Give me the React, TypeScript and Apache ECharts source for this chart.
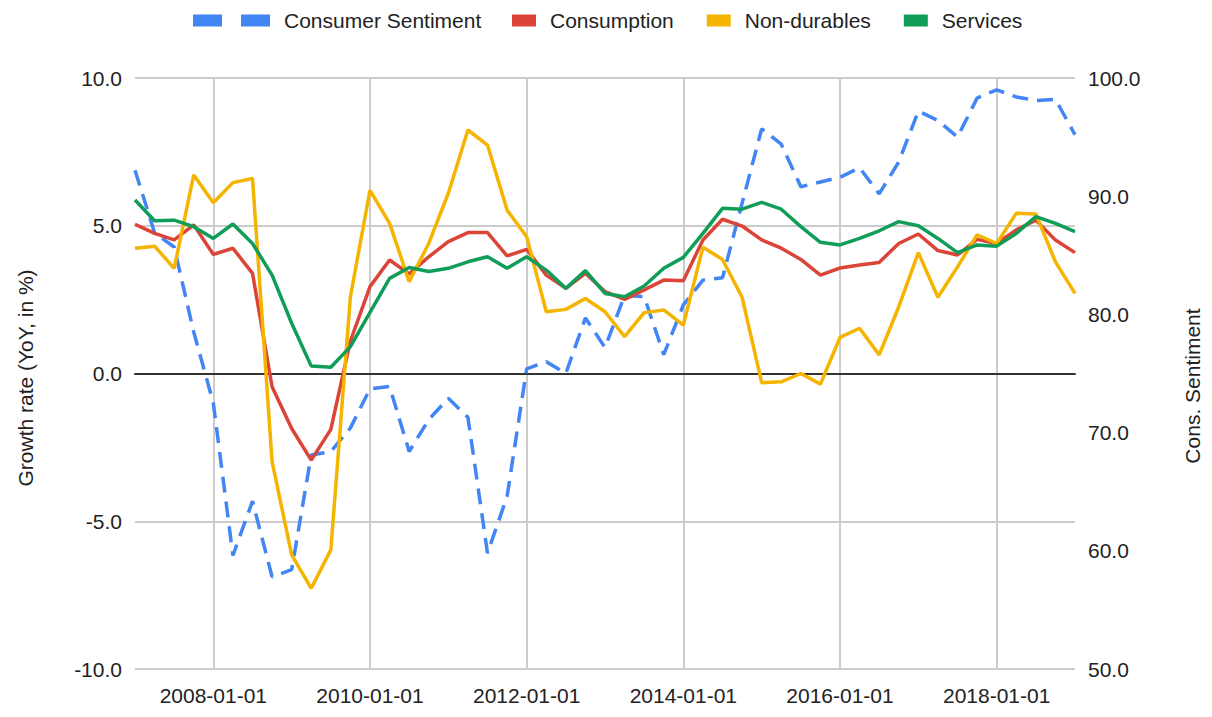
import React, { useEffect, useRef } from "react";
import * as echarts from "echarts";

const categories = [
  "2007-01-01", "2007-04-01", "2007-07-01", "2007-10-01",
  "2008-01-01", "2008-04-01", "2008-07-01", "2008-10-01",
  "2009-01-01", "2009-04-01", "2009-07-01", "2009-10-01",
  "2010-01-01", "2010-04-01", "2010-07-01", "2010-10-01",
  "2011-01-01", "2011-04-01", "2011-07-01", "2011-10-01",
  "2012-01-01", "2012-04-01", "2012-07-01", "2012-10-01",
  "2013-01-01", "2013-04-01", "2013-07-01", "2013-10-01",
  "2014-01-01", "2014-04-01", "2014-07-01", "2014-10-01",
  "2015-01-01", "2015-04-01", "2015-07-01", "2015-10-01",
  "2016-01-01", "2016-04-01", "2016-07-01", "2016-10-01",
  "2017-01-01", "2017-04-01", "2017-07-01", "2017-10-01",
  "2018-01-01", "2018-04-01", "2018-07-01", "2018-10-01",
  "2019-01-01",
];

const consumerSentiment = [
  92.2, 86.9, 85.7, 78.5, 72.5, 59.6, 64.2, 57.8, 58.4, 68.1, 68.4, 70.4,
  73.7, 73.9, 68.4, 71.1, 72.9, 71.3, 59.8, 64.6, 75.4, 76.0, 75.0, 79.7,
  77.2, 81.6, 81.5, 76.6, 80.8, 82.9, 83.1, 89.4, 95.7, 94.4, 90.8, 91.2,
  91.6, 92.4, 90.2, 92.9, 97.2, 96.4, 95.0, 98.3, 99.0, 98.4, 98.1, 98.2,
  95.2,
];

const consumption = [
  5.05, 4.74, 4.52, 5.03, 4.03, 4.24, 3.39, -0.45, -1.86, -2.93, -1.89, 1.1,
  2.94, 3.84, 3.37, 3.95, 4.46, 4.77, 4.77, 3.98, 4.2, 3.33, 2.88, 3.39,
  2.77, 2.51, 2.83, 3.16, 3.14, 4.52, 5.22, 4.99, 4.52, 4.24, 3.86, 3.33,
  3.57, 3.67, 3.76, 4.4, 4.72, 4.16, 4.01, 4.54, 4.4, 4.86, 5.19, 4.52,
  4.09,
];

const nonDurables = [
  4.24, 4.31, 3.56, 6.72, 5.78, 6.46, 6.6, -2.98, -6.14, -7.27, -5.97, 2.6,
  6.2, 5.08, 3.11, 4.4, 6.1, 8.24, 7.73, 5.53, 4.63, 2.09, 2.17, 2.54,
  2.09, 1.25, 2.06, 2.15, 1.64, 4.27, 3.86, 2.58, -0.31, -0.28, 0.0, -0.36,
  1.22, 1.53, 0.63, 2.26, 4.09, 2.58, 3.61, 4.69, 4.4, 5.42, 5.4, 3.78,
  2.71,
];

const services = [
  5.87, 5.17, 5.19, 4.97, 4.57, 5.06, 4.4, 3.33, 1.7, 0.25, 0.21, 0.91,
  2.07, 3.22, 3.59, 3.45, 3.56, 3.78, 3.95, 3.56, 3.95, 3.5, 2.88, 3.48,
  2.71, 2.6, 2.96, 3.56, 3.93, 4.74, 5.59, 5.56, 5.79, 5.56, 4.97, 4.44,
  4.35, 4.57, 4.83, 5.14, 5.0, 4.57, 4.09, 4.35, 4.31, 4.74, 5.31, 5.08,
  4.8,
];

const seriesNames = ["Consumer Sentiment", "Consumption", "Non-durables", "Services"];
const colors = ["#4285F4", "#DB4437", "#F4B400", "#0F9D58"];

const leftAxis = { min: -10, max: 10, interval: 5 };
const rightAxis = { min: 50, max: 100, interval: 10 };
const leftTitle = "Growth rate (YoY, in %)";
const rightTitle = "Cons. Sentiment";

const FONT = "'Liberation Sans', Arial, sans-serif";
const FS = 21;
const TXT = "#222222";
const LW = 3.5;

export default function App() {
  const ref = useRef<HTMLDivElement>(null);

  useEffect(() => {
    document.body.style.margin = "0";
    if (!ref.current) return;
    const chart = echarts.init(ref.current, null, { renderer: "svg" });
    const labelInterval = (i: number) => i % 8 === 4;
    const textStyle = { fontSize: FS, color: TXT, fontFamily: FONT };

    const option: any = {
      animation: false,
      textStyle: { fontFamily: FONT },
      grid: { left: 135, right: 137, top: 78, bottom: 48, containLabel: false },
      legend: [
        {
          data: [
            { name: seriesNames[0], icon: "path://M0 0h29v12H0z M48 0h29v12H48z" },
          ],
          left: 188,
          top: 5,
          itemWidth: 77,
          itemHeight: 12,
          itemGap: 0,
          textStyle: { ...textStyle, padding: [0, 0, 0, 9] },
        },
        {
          data: seriesNames.slice(1).map((n) => ({ name: n, icon: "rect" })),
          left: 507,
          top: 5,
          itemWidth: 24,
          itemHeight: 12,
          itemGap: 33,
          textStyle: { ...textStyle, padding: [0, 0, 0, 9] },
        },
      ],
      xAxis: [
        {
          type: "category",
          data: categories,
          boundaryGap: false,
          axisLine: { show: false },
          axisTick: { show: false },
          axisLabel: { interval: labelInterval, margin: 16, ...textStyle },
          splitLine: {
            show: true,
            interval: labelInterval,
            lineStyle: { color: "#cccccc", width: 2 },
          },
        },
        {
          type: "category",
          data: categories,
          boundaryGap: false,
          position: "bottom",
          axisLine: {
            show: true,
            onZero: true,
            onZeroAxisIndex: 0,
            lineStyle: { color: "#333333", width: 2 },
          },
          axisTick: { show: false },
          axisLabel: { show: false },
          splitLine: { show: false },
        },
      ],
      yAxis: [
        {
          type: "value",
          ...leftAxis,
          position: "left",
          axisLine: { show: false },
          axisTick: { show: false },
          axisLabel: { formatter: (v: number) => v.toFixed(1), margin: 13, ...textStyle },
          splitLine: { show: true, lineStyle: { color: "#cccccc", width: 2 } },
        },
        {
          type: "value",
          ...rightAxis,
          position: "right",
          axisLine: { show: false },
          axisTick: { show: false },
          axisLabel: { formatter: (v: number) => v.toFixed(1), margin: 13, ...textStyle },
          splitLine: { show: false },
        },
      ],
      graphic: [
        {
          type: "text",
          x: 25,
          y: 378,
          rotation: Math.PI / 2,
          style: {
            text: leftTitle,
            fontSize: FS,
            fontFamily: FONT,
            fill: TXT,
            align: "center",
            verticalAlign: "middle",
          },
        },
        {
          type: "text",
          x: 1192,
          y: 386,
          rotation: Math.PI / 2,
          style: {
            text: rightTitle,
            fontSize: FS,
            fontFamily: FONT,
            fill: TXT,
            align: "center",
            verticalAlign: "middle",
          },
        },
      ],
      series: [
        {
          name: seriesNames[0],
          type: "line",
          xAxisIndex: 0,
          yAxisIndex: 1,
          data: consumerSentiment,
          showSymbol: false,
          symbol: "none",
          color: colors[0],
          lineStyle: { width: LW, type: [16, 9], color: colors[0] },
        },
        {
          name: seriesNames[1],
          type: "line",
          xAxisIndex: 0,
          yAxisIndex: 0,
          data: consumption,
          showSymbol: false,
          symbol: "none",
          color: colors[1],
          lineStyle: { width: LW, color: colors[1] },
        },
        {
          name: seriesNames[2],
          type: "line",
          xAxisIndex: 0,
          yAxisIndex: 0,
          data: nonDurables,
          showSymbol: false,
          symbol: "none",
          color: colors[2],
          lineStyle: { width: LW, color: colors[2] },
        },
        {
          name: seriesNames[3],
          type: "line",
          xAxisIndex: 0,
          yAxisIndex: 0,
          data: services,
          showSymbol: false,
          symbol: "none",
          color: colors[3],
          lineStyle: { width: LW, color: colors[3] },
        },
      ],
    };

    chart.setOption(option);
    return () => chart.dispose();
  }, []);

  return <div ref={ref} style={{ width: 1212, height: 717 }} />;
}
